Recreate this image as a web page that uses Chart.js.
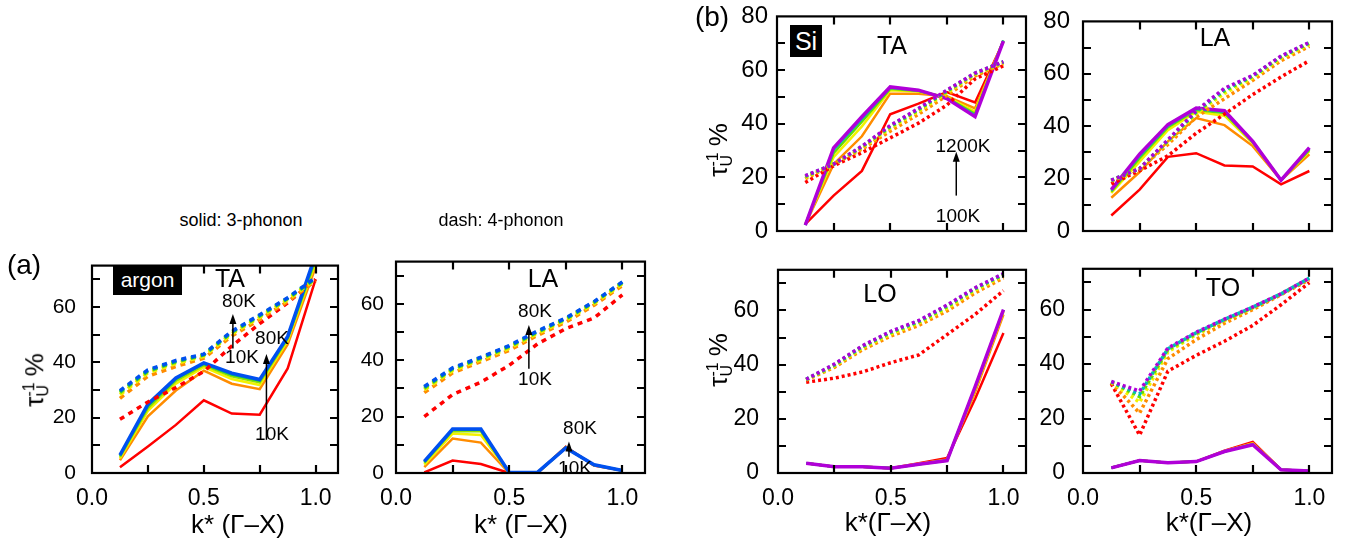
<!DOCTYPE html>
<html>
<head>
<meta charset="utf-8">
<script src="https://cdn.jsdelivr.net/npm/chart.js@4/dist/chart.umd.min.js"></script>
<style>
body { margin: 0; background: #fff; width: 1355px; height: 548px; position: relative; overflow: hidden;
       font-family: "Liberation Sans", Arial, sans-serif; color: #000; }
canvas { position: absolute; }
.t { position: absolute; white-space: nowrap; transform: translate(-50%, -50%); line-height: 1; }
.box { position: absolute; background: #000; color: #fff; text-align: center; }
.ytitle { position: absolute; white-space: nowrap; transform: translate(-50%, -50%) rotate(-90deg); font-size: 26px; line-height: 1; }
.ss { display: inline-block; vertical-align: middle; line-height: 0.9; font-size: 16px; text-align: left; margin-right: 6px; }
.ss span { display: block; }
</style>
</head>
<body>

<script>
// k points along Gamma-X
const kPoints = [0.125, 0.25, 0.375, 0.5, 0.625, 0.75, 0.875, 1.0];

// colours, lowest temperature first
const argonColors = ['#ff0000', '#ff8c00', '#f2f200', '#8ee000', '#00b86b', '#0050f0'];
const siColors = ['#ff0000', '#ff8c00', '#f2f200', '#66dd00', '#00bbbb', '#b000d8'];

// argon TA, 3-phonon (solid) and 4-phonon (dash), 10K ... 80K
const arTA3 = [
    [2.1, 9.6, 17.4, 26.3, 21.5, 21.1, 37.8, 70.1],
    [4.6, 20.5, 29.8, 37.0, 32.3, 30.3, 46.5, 74.5],
    [5.3, 22.5, 32.3, 38.3, 34.0, 31.8, 47.8, 76.0],
    [5.8, 23.5, 33.3, 39.0, 35.0, 32.8, 48.5, 77.0],
    [6.2, 24.3, 34.0, 39.5, 35.6, 33.4, 49.0, 78.0],
    [6.5, 24.9, 34.4, 39.8, 36.1, 33.8, 49.4, 79.0]
];
const arTA4 = [
    [19.4, 25.7, 30.9, 36.7, 45.9, 54.0, 61.5, 70.0],
    [27.0, 35.0, 38.5, 41.5, 49.5, 55.5, 62.0, 69.5],
    [28.3, 36.2, 39.6, 42.2, 50.3, 56.3, 62.7, 70.0],
    [29.0, 36.7, 40.1, 42.6, 50.8, 56.7, 63.0, 70.3],
    [29.4, 37.0, 40.4, 42.8, 51.0, 57.0, 63.2, 70.5],
    [29.8, 37.3, 40.7, 43.0, 51.3, 57.2, 63.4, 70.7]
];

// argon LA
const arLA3 = [
    [0.2, 4.4, 3.2, 0.0, 0.0, 9.3, 2.6, 0.9],
    [2.1, 12.2, 10.8, 0.0, 0.0, 9.2, 2.7, 0.9],
    [3.0, 14.0, 13.5, 0.1, 0.1, 9.0, 2.8, 0.9],
    [3.6, 14.9, 14.8, 0.1, 0.1, 8.9, 2.8, 0.9],
    [3.9, 15.3, 15.3, 0.2, 0.2, 8.9, 2.9, 0.9],
    [4.1, 15.6, 15.6, 0.2, 0.2, 8.9, 2.9, 0.9]
];
const arLA4 = [
    [20.0, 27.8, 32.2, 38.2, 45.8, 51.2, 55.0, 63.2],
    [28.5, 35.5, 39.5, 43.5, 48.8, 53.5, 59.5, 66.5],
    [29.5, 36.3, 40.2, 44.2, 49.5, 54.2, 60.1, 67.1],
    [30.0, 36.8, 40.6, 44.7, 49.9, 54.6, 60.5, 67.5],
    [30.4, 37.1, 40.9, 45.0, 50.2, 54.8, 60.7, 67.7],
    [30.7, 37.3, 41.1, 45.2, 50.4, 55.0, 60.8, 67.8]
];

// Si TA, 100K ... 1200K
const siTA3 = [
    [2.6, 13.2, 22.4, 43.5, 47.5, 51.8, 47.9, 70.5],
    [2.4, 24.9, 35.3, 51.2, 51.2, 50.2, 45.7, 70.8],
    [2.3, 27.5, 39.0, 52.5, 52.0, 50.0, 44.5, 71.0],
    [2.3, 29.0, 40.8, 53.0, 52.2, 49.7, 43.7, 71.0],
    [2.2, 30.2, 41.8, 53.4, 52.4, 49.5, 43.1, 71.0],
    [2.2, 31.0, 42.6, 53.7, 52.5, 49.4, 42.6, 70.8]
];
const siTA4 = [
    [18.1, 24.3, 29.2, 34.7, 40.2, 46.9, 56.7, 61.6],
    [19.5, 24.8, 30.5, 37.2, 43.5, 50.5, 57.8, 62.4],
    [20.0, 24.9, 31.0, 38.3, 44.6, 51.5, 58.4, 62.8],
    [20.3, 24.9, 31.3, 38.8, 45.2, 52.0, 58.7, 63.0],
    [20.5, 24.9, 31.5, 39.1, 45.5, 52.3, 58.8, 63.1],
    [20.6, 24.9, 31.6, 39.3, 45.7, 52.5, 58.9, 63.1]
];

// Si LA
const siLA3 = [
    [5.9, 15.8, 28.3, 29.7, 25.0, 24.6, 17.8, 22.9],
    [12.7, 22.5, 34.2, 43.1, 40.4, 32.4, 19.4, 29.3],
    [14.5, 26.5, 38.5, 45.5, 44.0, 33.5, 19.4, 30.5],
    [15.0, 27.8, 39.5, 46.2, 45.0, 33.9, 19.4, 31.0],
    [15.5, 28.6, 40.1, 46.6, 45.5, 34.1, 19.4, 31.4],
    [15.8, 29.3, 40.6, 46.9, 45.9, 34.2, 19.4, 31.8]
];
const siLA4 = [
    [18.0, 23.0, 28.7, 37.3, 44.6, 52.1, 58.8, 65.0],
    [19.0, 23.8, 33.0, 43.5, 50.5, 57.5, 65.0, 70.5],
    [19.2, 23.8, 34.0, 44.8, 52.5, 58.5, 66.0, 71.3],
    [19.3, 23.8, 34.4, 45.3, 53.5, 59.0, 66.4, 71.7],
    [19.4, 23.8, 34.6, 45.6, 54.0, 59.2, 66.6, 71.9],
    [19.4, 23.8, 34.8, 45.9, 54.5, 59.4, 66.8, 72.0]
];

// Si LO
const siLO3 = [
    [3.6, 2.3, 2.3, 1.8, 3.6, 5.5, 27.5, 51.7],
    [3.6, 2.3, 2.3, 1.8, 3.4, 5.0, 30.0, 58.5],
    [3.6, 2.3, 2.3, 1.8, 3.3, 4.8, 31.0, 59.5],
    [3.6, 2.3, 2.3, 1.8, 3.2, 4.7, 31.5, 60.0],
    [3.6, 2.3, 2.3, 1.8, 3.2, 4.6, 31.8, 60.2],
    [3.6, 2.3, 2.3, 1.8, 3.2, 4.6, 32.0, 60.3]
];
const siLO4 = [
    [33.5, 35.0, 37.3, 40.7, 43.6, 51.1, 58.6, 67.3],
    [34.3, 39.0, 45.5, 50.5, 54.5, 59.8, 66.5, 72.0],
    [34.4, 39.5, 46.2, 51.3, 55.4, 60.8, 67.5, 72.8],
    [34.5, 39.8, 46.6, 51.8, 55.8, 61.4, 68.0, 73.2],
    [34.6, 40.0, 46.8, 52.1, 56.1, 61.8, 68.2, 73.4],
    [34.6, 40.2, 47.0, 52.3, 56.3, 62.0, 68.4, 73.6]
];

// Si TO
const siTO3 = [
    [1.9, 4.6, 3.8, 4.2, 8.2, 11.4, 1.2, 0.7],
    [1.9, 4.6, 3.8, 4.2, 8.0, 11.0, 1.2, 0.7],
    [1.9, 4.6, 3.8, 4.2, 8.0, 10.8, 1.2, 0.7],
    [1.9, 4.6, 3.8, 4.2, 7.9, 10.6, 1.2, 0.7],
    [1.9, 4.6, 3.8, 4.2, 7.9, 10.5, 1.2, 0.7],
    [1.9, 4.6, 3.8, 4.2, 7.9, 10.4, 1.2, 0.7]
];
const siTO4 = [
    [32.8, 13.9, 37.4, 43.2, 48.4, 54.2, 61.8, 69.9],
    [33.2, 22.0, 42.0, 49.0, 55.0, 60.0, 65.5, 71.0],
    [33.4, 26.0, 44.5, 50.8, 56.0, 60.6, 65.7, 71.4],
    [33.5, 28.0, 45.3, 51.3, 56.3, 60.8, 65.8, 71.5],
    [33.5, 29.0, 45.6, 51.5, 56.4, 60.9, 65.8, 71.6],
    [33.6, 30.1, 45.9, 51.7, 56.5, 61.0, 65.8, 71.6]
];

// arrows: [k, from, to] in data units
const arTAArrows = [[0.63, 45, 57.5], [0.78, 12, 43]];
const arLAArrows = [[0.587, 37, 52.5], [0.764, 5.8, 11.2]];
const siTAArrows = [[0.792, 13.2, 29.5]];

const Y_W = 60, X_H = 45, PAD_T = 20, PAD_R = 10;

// frame, inward ticks on all sides, and arrows
const framePlugin = {
    id: 'frame',
    afterDraw(chart, args, opts) {
        const { ctx, chartArea: a, scales } = chart;
        const xs = scales.x, ys = scales.y;
        ctx.save();
        ctx.strokeStyle = '#000';
        ctx.lineWidth = 2.2;
        ctx.strokeRect(a.left, a.top, a.right - a.left, a.bottom - a.top);
        ctx.beginPath();
        for (let k = 0.25; k <= 1.0001; k += 0.25) {
            const px = Math.round(xs.getPixelForValue(k));
            ctx.moveTo(px, a.bottom); ctx.lineTo(px, a.bottom - 8);
            ctx.moveTo(px, a.top); ctx.lineTo(px, a.top + 8);
        }
        for (let v = 10; v < ys.max; v += 10) {
            const py = Math.round(ys.getPixelForValue(v));
            ctx.moveTo(a.left, py); ctx.lineTo(a.left + 8, py);
            ctx.moveTo(a.right, py); ctx.lineTo(a.right - 8, py);
        }
        ctx.stroke();

        ctx.fillStyle = '#000';
        ctx.lineWidth = 1.5;
        (opts.arrows || []).forEach(([k, v0, v1]) => {
            const px = xs.getPixelForValue(k);
            const p0 = ys.getPixelForValue(v0), p1 = ys.getPixelForValue(v1);
            ctx.beginPath();
            ctx.moveTo(px, p0); ctx.lineTo(px, p1 + 8);
            ctx.stroke();
            ctx.beginPath();
            ctx.moveTo(px, p1); ctx.lineTo(px - 3.5, p1 + 10); ctx.lineTo(px + 3.5, p1 + 10);
            ctx.closePath();
            ctx.fill();
        });
        ctx.restore();
    }
};

function makePanel(area, cfg) {
    const [L, T, R, B] = area;
    const w = Y_W + (R - L) + PAD_R, h = PAD_T + (B - T) + X_H;
    const canvas = document.createElement('canvas');
    canvas.width = w; canvas.height = h;
    canvas.style.left = (L - Y_W) + 'px';
    canvas.style.top = (T - PAD_T) + 'px';
    canvas.style.width = w + 'px';
    canvas.style.height = h + 'px';
    document.body.appendChild(canvas);

    const n = cfg.solid.length;
    const datasets = [];
    cfg.solid.forEach((vals, i) => {
        datasets.push({
            data: kPoints.map((k, j) => ({ x: k, y: vals[j] })),
            borderColor: cfg.colors[i],
            borderWidth: i === n - 1 ? 3.5 : 2.5,
            pointRadius: 0,
            order: 2 * n - i
        });
    });
    cfg.dash.forEach((vals, i) => {
        datasets.push({
            data: kPoints.map((k, j) => ({ x: k, y: vals[j] })),
            borderColor: cfg.colors[i],
            borderWidth: 3.5,
            borderDash: cfg.dashPattern,
            pointRadius: 0,
            order: n - i
        });
    });

    new Chart(canvas, {
        type: 'line',
        data: { datasets },
        plugins: [framePlugin],
        options: {
            responsive: false,
            animation: false,
            devicePixelRatio: 1,
            layout: { padding: { top: PAD_T, right: PAD_R, left: 0, bottom: 0 } },
            plugins: { legend: { display: false }, tooltip: { enabled: false }, frame: { arrows: cfg.arrows } },
            scales: {
                x: {
                    type: 'linear', min: 0, max: 1.1,
                    grid: { display: false, drawTicks: false },
                    border: { display: false },
                    ticks: {
                        display: cfg.showX, stepSize: 0.5, includeBounds: false, maxRotation: 0,
                        padding: 12, color: '#000',
                        font: { family: 'Liberation Sans', size: 23 },
                        callback: v => v.toFixed(1)
                    },
                    afterFit: s => { s.height = X_H; }
                },
                y: {
                    min: 0, max: cfg.ymax,
                    grid: { display: false, drawTicks: false },
                    border: { display: false },
                    ticks: {
                        stepSize: 20, includeBounds: false, padding: cfg.yPad, color: '#000',
                        font: { family: 'Liberation Sans', size: cfg.yFont }
                    },
                    afterFit: s => { s.width = Y_W; }
                }
            }
        }
    });
}

const DASH = [5, 5];
const DOT = [3, 3];

makePanel([92, 257, 338, 473], { solid: arTA3, dash: arTA4, colors: argonColors, dashPattern: DASH, ymax: 75, showX: true, yPad: 16, yFont: 21, arrows: arTAArrows });
makePanel([396, 257, 645, 473], { solid: arLA3, dash: arLA4, colors: argonColors, dashPattern: DASH, ymax: 75, showX: true, yPad: 12, yFont: 21, arrows: arLAArrows });
makePanel([777, 13, 1026, 231], { solid: siTA3, dash: siTA4, colors: siColors, dashPattern: DOT, ymax: 80, showX: false, yPad: 9, yFont: 24, arrows: siTAArrows });
makePanel([1083, 14, 1332, 231], { solid: siLA3, dash: siLA4, colors: siColors, dashPattern: DOT, ymax: 80, showX: false, yPad: 13, yFont: 24 });
makePanel([778, 257, 1026, 473], { solid: siLO3, dash: siLO4, colors: siColors, dashPattern: DOT, ymax: 75, showX: true, yPad: 19, yFont: 23 });
makePanel([1083, 257, 1332, 473], { solid: siTO3, dash: siTO4, colors: siColors, dashPattern: DOT, ymax: 75, showX: true, yPad: 18, yFont: 23 });
</script>

<!-- labels -->
<div class="t" style="left:24px;top:265px;font-size:28px;">(a)</div>
<div class="t" style="left:712px;top:17px;font-size:28px;">(b)</div>
<div class="t" style="left:241px;top:220px;font-size:18px;">solid: 3-phonon</div>
<div class="t" style="left:501px;top:220px;font-size:18px;">dash: 4-phonon</div>

<div class="box" style="left:113px;top:265px;width:69px;height:30px;line-height:30px;font-size:21px;">argon</div>
<div class="box" style="left:790px;top:25px;width:32px;height:32px;line-height:32px;font-size:25px;">Si</div>

<div class="t" style="left:230px;top:278px;font-size:25px;">TA</div>
<div class="t" style="left:543px;top:278px;font-size:25px;">LA</div>
<div class="t" style="left:892px;top:45px;font-size:25px;">TA</div>
<div class="t" style="left:1215px;top:37px;font-size:25px;">LA</div>
<div class="t" style="left:880px;top:293px;font-size:25px;">LO</div>
<div class="t" style="left:1223px;top:287px;font-size:25px;">TO</div>

<div class="t" style="left:239px;top:300px;font-size:19px;">80K</div>
<div class="t" style="left:242px;top:356px;font-size:19px;">10K</div>
<div class="t" style="left:272px;top:337px;font-size:19px;">80K</div>
<div class="t" style="left:272px;top:433px;font-size:19px;">10K</div>
<div class="t" style="left:535px;top:310px;font-size:19px;">80K</div>
<div class="t" style="left:535px;top:378px;font-size:19px;">10K</div>
<div class="t" style="left:580px;top:427px;font-size:19px;">80K</div>
<div class="t" style="left:575px;top:467px;font-size:19px;">10K</div>
<div class="t" style="left:963px;top:145px;font-size:19px;">1200K</div>
<div class="t" style="left:958px;top:215px;font-size:19px;">100K</div>

<div class="t" style="left:238px;top:524px;font-size:26px;">k* (Γ–X)</div>
<div class="t" style="left:521px;top:524px;font-size:26px;">k* (Γ–X)</div>
<div class="t" style="left:888px;top:522px;font-size:26px;">k*(Γ–X)</div>
<div class="t" style="left:1209px;top:522px;font-size:26px;">k*(Γ–X)</div>

<div class="ytitle" style="left:36px;top:380px;">τ<span class="ss"><span>-1</span><span>U</span></span>%</div>
<div class="ytitle" style="left:720px;top:150px;">τ<span class="ss"><span>-1</span><span>U</span></span>%</div>
<div class="ytitle" style="left:720px;top:360px;">τ<span class="ss"><span>-1</span><span>U</span></span>%</div>

</body>
</html>
